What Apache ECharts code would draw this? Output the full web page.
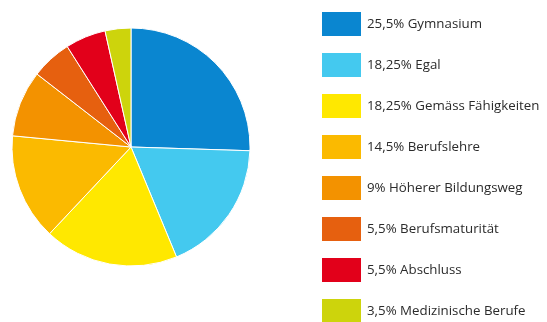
<!DOCTYPE html>
<html><head><meta charset="utf-8">
<script src="https://cdn.jsdelivr.net/npm/echarts@6/dist/echarts.min.js"></script>
<style>html,body{margin:0;padding:0;background:#fff}#c{width:547px;height:322px}</style>
</head><body><div id="c"></div>
<script>
const categories = ["Gymnasium","Egal","Gemäss Fähigkeiten","Berufslehre","Höherer Bildungsweg","Berufsmaturität","Abschluss","Medizinische Berufe"];
const values = [25.5,18.25,18.25,14.5,9,5.5,5.5,3.5];
const colors = ["#0a86d0","#44c9ef","#ffe800","#fbba00","#f39200","#e6600f","#e2001a","#cdd40c"];

const chart = echarts.init(document.getElementById('c'));
const valueOf = {};
categories.forEach((c,i)=>valueOf[c]=values[i]);
chart.setOption({
  animation:false,
  color: colors,
  legend:{
    orient:'vertical', left:320, top:10, height:400, padding:0,
    itemWidth:41, itemHeight:26, itemGap:13,
    icon:'rect',
    textStyle:{fontFamily:'Open Sans', fontSize:13.3, color:'#2b2b2b', lineHeight:14},
    formatter: n => String(valueOf[n]).replace('.',',') + '% ' + n,
    data: categories
  },
  series:[{
    type:'pie',
    center:[131,147], radius:119,
    startAngle:90, clockwise:true,
    label:{show:false}, labelLine:{show:false},
    emphasis:{disabled:true},
    itemStyle:{borderColor:'#fff', borderWidth:1},
    data: categories.map((c,i)=>({name:c, value:values[i]}))
  }]
});
</script></body></html>
